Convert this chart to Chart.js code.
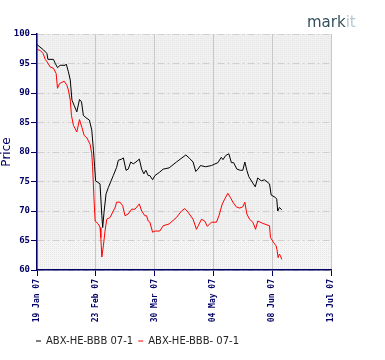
<!DOCTYPE html>
<html>
<head>
<meta charset="utf-8">
<script src="https://cdn.jsdelivr.net/npm/chart.js@4/dist/chart.umd.min.js"></script>
<style>
  body { margin: 0; background: #fff; }
  canvas { display: block; }
</style>
</head>
<body>
<canvas id="priceChart" width="385" height="360"></canvas>
<script>
// days after 19 Jan 07
let tickLabels = ["19 Jan 07", "23 Feb 07", "30 Mar 07", "04 May 07", "08 Jun 07", "13 Jul 07"];

let blackDays = [0, 3.9, 5.9, 6.5, 9.8, 10.9, 12.2, 13.8, 16.8, 17.4, 18.7, 19.8, 20.8, 22.1, 23.7, 25.3, 26.5, 27.6, 29.2, 31.2, 32.6, 33.6, 34.3, 34.9, 37.5, 38.6, 39.1, 39.9, 41.1, 42.5, 45.4, 47.4, 48.4, 50.4, 51.4, 53.0, 54.3, 55.8, 57.3, 58.9, 60.9, 62.3, 63.6, 64.8, 66.2, 67.2, 68.8, 70.2, 73.1, 75.1, 78.6, 83.0, 88.6, 90.9, 92.9, 94.5, 95.8, 97.3, 100.4, 103.8, 107.7, 109.7, 110.7, 112.3, 114.2, 115.7, 117.0, 119.0, 121.0, 122.5, 123.7, 124.9, 126.1, 128.1, 129.9, 131.4, 133.5, 135.4, 138.4, 139.4, 141.9, 142.7, 143.3, 144.3, 145.7];
let blackPrices = [98.2, 97.3, 96.7, 95.7, 95.7, 95.0, 94.3, 94.7, 94.7, 94.9, 93.6, 92.2, 88.8, 87.9, 86.8, 88.9, 88.5, 86.2, 85.8, 85.4, 83.7, 80.3, 77.5, 75.1, 74.6, 69.2, 67.2, 69.8, 72.9, 74.0, 76.0, 77.4, 78.6, 78.8, 79.0, 76.9, 77.1, 78.3, 78.0, 78.3, 78.8, 77.1, 76.3, 76.9, 76.0, 76.0, 75.3, 76.0, 76.6, 77.1, 77.3, 78.3, 79.5, 78.9, 78.3, 76.7, 77.1, 77.7, 77.5, 77.7, 78.2, 79.1, 78.7, 79.4, 79.7, 78.2, 78.2, 77.1, 76.9, 76.9, 78.3, 76.9, 75.8, 74.9, 74.1, 75.6, 75.1, 75.3, 74.6, 72.7, 72.3, 72.0, 70.0, 70.6, 70.2];

let redDays = [0, 2.0, 3.6, 4.9, 5.9, 7.9, 9.8, 11.4, 12.2, 13.4, 14.8, 16.2, 17.8, 18.7, 19.8, 20.5, 21.7, 23.7, 25.3, 26.7, 28.1, 29.7, 31.6, 32.6, 33.1, 34.0, 34.6, 36.5, 37.5, 38.0, 38.6, 39.5, 40.5, 41.5, 43.5, 45.4, 46.4, 47.4, 49.4, 51.0, 52.4, 54.3, 56.3, 58.3, 60.9, 62.3, 64.2, 65.2, 66.2, 67.2, 68.8, 70.2, 73.1, 75.1, 78.6, 83.0, 86.0, 88.0, 89.9, 92.9, 94.9, 95.8, 97.9, 99.8, 101.4, 103.8, 106.8, 108.3, 110.3, 111.7, 113.6, 115.1, 116.6, 118.6, 120.6, 122.5, 123.7, 124.9, 126.5, 128.5, 130.1, 131.4, 134.4, 138.4, 139.0, 140.7, 142.3, 142.9, 143.5, 144.3, 144.9, 145.7];
let redPrices = [97.4, 97.2, 96.7, 95.7, 95.3, 94.4, 94.2, 93.3, 90.8, 91.6, 91.8, 92.0, 91.3, 90.5, 88.8, 86.2, 84.5, 83.4, 85.5, 84.2, 82.8, 82.4, 81.3, 79.7, 77.5, 71.7, 68.3, 67.8, 67.2, 65.5, 62.2, 64.1, 66.6, 68.6, 68.9, 70.0, 70.5, 71.5, 71.5, 70.9, 69.2, 69.5, 70.3, 70.3, 71.2, 70.0, 69.2, 69.2, 68.3, 68.1, 66.4, 66.6, 66.6, 67.5, 67.8, 68.9, 70.0, 70.4, 69.8, 68.6, 66.9, 67.4, 68.6, 68.3, 67.4, 68.1, 68.1, 69.2, 71.2, 72.0, 73.0, 72.3, 71.5, 70.7, 70.5, 70.7, 71.5, 69.5, 68.6, 68.1, 66.9, 68.3, 67.9, 67.5, 65.5, 64.7, 64.1, 63.4, 62.1, 62.7, 62.4, 61.8];

const navy = "#000066";

function toPoints(days, prices) {
  return days.map((d, i) => ({ x: d, y: prices[i] }));
}

function dotPattern(light, dark) {
  let c = document.createElement("canvas");
  c.width = 2;
  c.height = 2;
  let g = c.getContext("2d");
  g.fillStyle = light;
  g.fillRect(0, 0, 2, 2);
  g.fillStyle = dark;
  g.fillRect(0, 0, 1, 1);
  return g.createPattern(c, "repeat");
}

// plot background + markit logo
const decorPlugin = {
  id: "decor",
  beforeDraw(chart) {
    let ctx = chart.ctx;
    let a = chart.chartArea;
    let y65 = chart.scales.y.getPixelForValue(65);
    ctx.save();
    ctx.fillStyle = dotPattern("#f1f1f1", "#e6e6e6");
    ctx.fillRect(a.left, a.top, a.right - a.left, y65 - a.top);
    ctx.fillStyle = dotPattern("#f5f5f5", "#e6e6e6");
    ctx.fillRect(a.left, y65, a.right - a.left, a.bottom - y65);
    ctx.restore();
  },
  afterDraw(chart) {
    let ctx = chart.ctx;
    ctx.save();
    ctx.font = "15px 'DejaVu Sans'";
    ctx.textBaseline = "alphabetic";
    ctx.fillStyle = "#34505e";
    ctx.fillText("mark", 307, 27);
    let w = ctx.measureText("mark").width;
    ctx.fillStyle = "#b4c8d0";
    ctx.fillText("it", 307 + w, 27);
    ctx.restore();
  },
  afterLayout(chart) {
    // legend starts under the axis instead of the canvas edge
    chart.legend.left = 31;
  }
};

let priceChart = new Chart(document.getElementById("priceChart").getContext("2d"), {
  type: "line",
  data: {
    datasets: [
      {
        label: "ABX-HE-BBB 07-1",
        data: toPoints(blackDays, blackPrices),
        borderColor: "#000000",
        borderWidth: 1,
        pointRadius: 0,
        tension: 0,
      },
      {
        label: "ABX-HE-BBB- 07-1",
        data: toPoints(redDays, redPrices),
        borderColor: "#ff0000",
        borderWidth: 1,
        pointRadius: 0,
        tension: 0,
      },
    ],
  },
  options: {
    responsive: false,
    animation: false,
    devicePixelRatio: 1,
    layout: {
      padding: { top: 34, right: 54, bottom: 4, left: 0 },
    },
    plugins: {
      legend: {
        position: "bottom",
        align: "start",
        labels: {
          usePointStyle: true,
          pointStyle: "line",
          pointStyleWidth: 5,
          padding: 5,
          color: "#222222",
          font: { family: "'DejaVu Sans'", size: 10 },
        },
      },
      tooltip: { enabled: false },
    },
    scales: {
      x: {
        type: "linear",
        min: 0,
        max: 175,
        afterFit: (scale) => { scale.height = 61; },
        ticks: {
          stepSize: 35,
          minRotation: 90,
          maxRotation: 90,
          autoSkip: false,
          padding: 3,
          color: navy,
          font: { family: "'DejaVu Sans Mono'", size: 8, weight: "bold" },
          callback: (v) => tickLabels[Math.round(v / 35)],
        },
        grid: {
          color: "#c8c8c8",
          lineWidth: 1,
          tickColor: navy,
          tickLength: 6,
        },
        border: { color: navy, width: 1.5 },
      },
      y: {
        min: 60,
        max: 100,
        afterFit: (scale) => { scale.width = 37; },
        title: {
          display: true,
          text: "Price",
          color: navy,
          padding: 0,
          font: { family: "'DejaVu Sans'", size: 12 },
        },
        ticks: {
          stepSize: 5,
          padding: 1,
          color: navy,
          font: { family: "'DejaVu Sans Mono'", size: 9, weight: "bold" },
        },
        grid: {
          color: "#cfcfcf",
          lineWidth: 1,
          tickColor: navy,
          tickLength: 6,
        },
        border: { color: navy, width: 1.5, dash: [7, 3, 2, 3] },
      },
    },
  },
  plugins: [decorPlugin],
});
</script>
</body>
</html>
